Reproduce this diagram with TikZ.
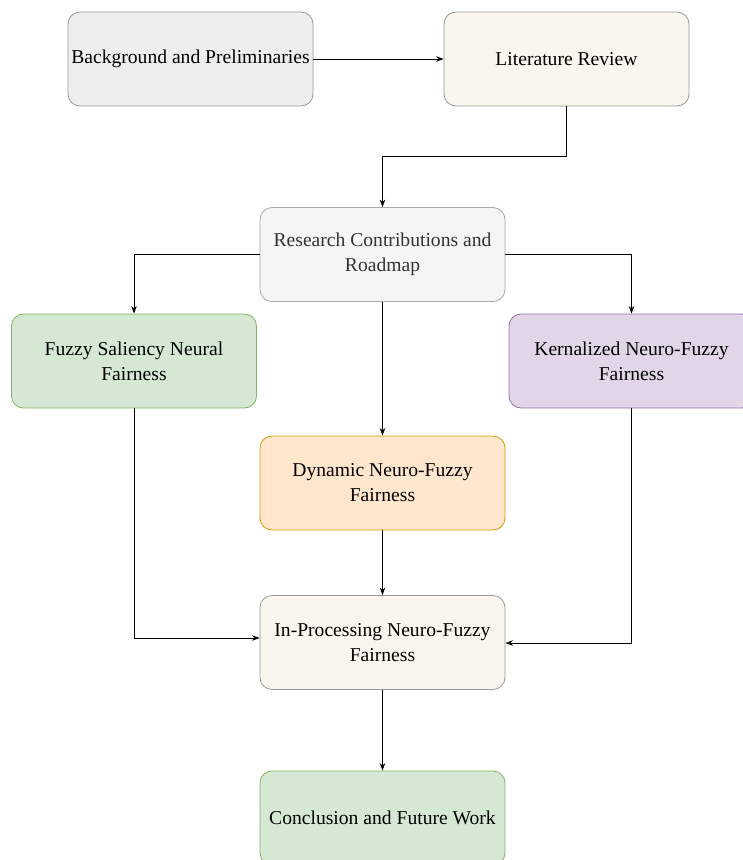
\documentclass[tikz,border=0pt]{standalone}
\usepackage{fontspec}
\setmainfont{Liberation Serif}
\usetikzlibrary{arrows.meta}
\definecolor{greyfill}{HTML}{EEEEEE}
\definecolor{greyline}{HTML}{999999}
\definecolor{beigefill}{HTML}{F9F7ED}
\definecolor{lightfill}{HTML}{F5F5F5}
\definecolor{lightline}{HTML}{AAAAAA}
\definecolor{darktext}{HTML}{333333}
\definecolor{greenfill}{HTML}{D5E8D4}
\definecolor{greenline}{HTML}{82B366}
\definecolor{purplefill}{HTML}{E1D5E7}
\definecolor{purpleline}{HTML}{9673A6}
\definecolor{orangefill}{HTML}{FFE6CC}
\definecolor{orangeline}{HTML}{D79B00}
\tikzset{
  x=1pt, y=-1pt,
  box/.style={rounded corners=12pt, minimum width=245pt, minimum height=94pt,
    align=center, inner sep=0pt, line width=0.8pt,
    font=\fontsize{19.6}{25}\selectfont},
  greybox/.style={box, fill=greyfill, draw=greyline},
  beigebox/.style={box, fill=beigefill, draw=greyline},
  lightbox/.style={box, fill=lightfill, draw=lightline, text=darktext},
  greenbox/.style={box, fill=greenfill, draw=greenline},
  purplebox/.style={box, fill=purplefill, draw=purpleline},
  orangebox/.style={box, fill=orangefill, draw=orangeline},
  link/.style={line width=1pt, -{Stealth[length=7.5pt,width=5.5pt]}},
}
\begin{document}
\begin{tikzpicture}
\useasboundingbox (0,0) rectangle (743,860);
\clip (0,0) rectangle (743,860);
\fill[white] (0,0) rectangle (743,860);

% boxes
\node[greybox]   (bg)   at (190.5,59)  {Background and Preliminaries};
\node[beigebox]  (lit)  at (566.5,59)  {Literature Review};
\node[lightbox]  (rc)   at (382.5,254.5) {Research Contributions and\\Roadmap};
\node[greenbox]  (fsn)  at (134,361)   {Fuzzy Saliency Neural\\Fairness};
\node[purplebox] (knf)  at (631.5,361) {Kernalized Neuro-Fuzzy\\Fairness};
\node[orangebox] (dnf)  at (382.5,483) {Dynamic Neuro-Fuzzy\\Fairness};
\node[beigebox]  (ipn)  at (382.5,642.5) {In-Processing Neuro-Fuzzy\\Fairness};
\node[greenbox]  (cfw)  at (382.5,818) {Conclusion and Future Work};

% connectors
\draw[link] (bg.east) -- (lit.west);
\draw[link] (lit.south) |- (382.5,156) -- (rc.north);
\draw[link] (rc.west) -| (fsn.north);
\draw[link] (rc.east) -| (knf.north);
\draw[link] (rc.south) -- (dnf.north);
\draw[link] (dnf.south) -- (ipn.north);
\draw[link] (fsn.south) |- ([yshift=4.5pt]ipn.west);
\draw[link] (knf.south) |- ([yshift=-0.5pt]ipn.east);
\draw[link] (ipn.south) -- (cfw.north);
\end{tikzpicture}
\end{document}
